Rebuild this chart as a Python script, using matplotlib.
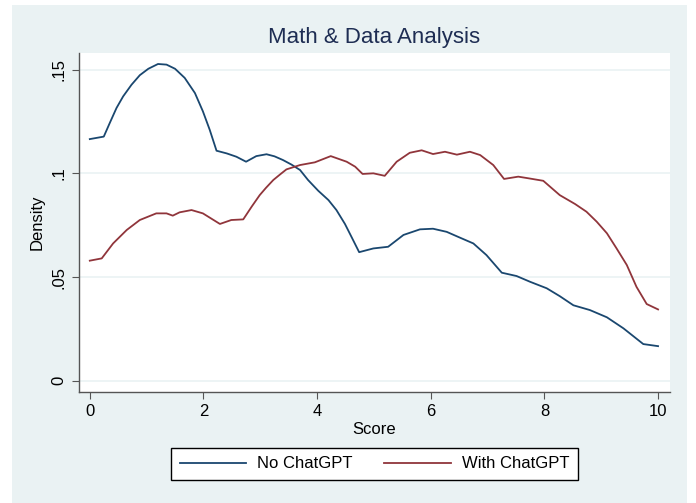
import matplotlib
matplotlib.use("Agg")
import matplotlib.pyplot as plt
from matplotlib.patches import Rectangle

# kernel density curves
score_no = [0, 0.246, 0.352, 0.47, 0.587, 0.734, 0.88, 1.03, 1.20, 1.35, 1.50, 1.67,
            1.85, 1.99, 2.11, 2.23, 2.41, 2.58, 2.75, 2.93, 3.11, 3.25, 3.40, 3.55,
            3.70, 3.84, 4.02, 4.20, 4.34, 4.49, 4.61, 4.74, 4.99, 5.25, 5.52, 5.81,
            6.04, 6.28, 6.48, 6.75, 6.98, 7.25, 7.51, 7.75, 8.04, 8.27, 8.51, 8.80,
            9.10, 9.39, 9.74, 10]
density_no = [.1165, .1177, .1243, .1315, .1371, .1427, .1473, .1504, .1527, .1524,
              .1504, .1460, .1387, .1299, .1210, .1109, .1096, .1080, .1056, .1083,
              .1092, .1082, .1064, .1042, .1016, .0968, .0916, .0871, .0823, .0756,
              .0691, .0620, .0638, .0646, .0703, .0730, .0733, .0718, .0694, .0662,
              .0606, .0521, .0505, .0477, .0446, .0408, .0364, .0341, .0306, .0253,
              .0177, .0167]

score_with = [0, 0.21, 0.41, 0.65, 0.88, 1.17, 1.35, 1.46, 1.58, 1.79, 1.99, 2.29,
              2.49, 2.70, 2.85, 2.99, 3.10, 3.23, 3.35, 3.46, 3.70, 3.96, 4.24, 4.52,
              4.67, 4.80, 4.99, 5.19, 5.40, 5.63, 5.84, 6.04, 6.25, 6.46, 6.69, 6.87,
              7.10, 7.29, 7.54, 7.72, 7.98, 8.27, 8.54, 8.74, 8.92, 9.10, 9.27, 9.45,
              9.62, 9.80, 10]
density_with = [.0579, .0590, .0662, .0727, .0775, .0807, .0807, .0796, .0812, .0823,
                .0807, .0756, .0775, .0778, .0840, .0895, .0930, .0968, .0995, .1019,
                .1040, .1053, .1083, .1056, .1032, .0997, .1000, .0988, .1056, .1099,
                .1111, .1093, .1104, .1090, .1104, .1088, .1040, .0973, .0984, .0976,
                .0964, .0895, .0852, .0815, .0767, .0711, .0638, .0558, .0453, .0370,
                .0344]

labels = ["No ChatGPT", "With ChatGPT"]
xticks = [0, 2, 4, 6, 8, 10]
yticks = [0, 0.05, 0.1, 0.15]
ytick_labels = ["0", ".05", ".1", ".15"]

plt.rcParams["font.family"] = ["Liberation Sans", "DejaVu Sans"]
bg = "#EAF2F3"
navy = "#1a476f"
maroon = "#90353b"

fig = plt.figure(figsize=(6.96, 5.03), dpi=100)
fig.patches.append(Rectangle((12 / 696, 0), 675 / 696, 498 / 503,
                             transform=fig.transFigure, facecolor=bg,
                             edgecolor="none", zorder=-10))

ax = fig.add_axes([79 / 696, 111 / 503, 591 / 696, 339 / 503])
ax.set_zorder(1)
ax.set_facecolor("white")
ax.plot(score_no, density_no, color=navy, lw=1.3, label=labels[0])
ax.plot(score_with, density_with, color=maroon, lw=1.3, label=labels[1])

ax.set_xlim(-0.19, 10.21)
ax.set_ylim(-0.0054, 0.158)
ax.set_xticks(xticks)
ax.set_yticks(yticks)
ax.set_yticklabels(ytick_labels, rotation=90, va="center")
ax.tick_params(labelsize=12, length=5, color="#555555", labelcolor="black")
ax.tick_params(axis="y", pad=4)
ax.grid(axis="y", color=bg, lw=1.2)
ax.set_axisbelow(True)
for side in ["top", "right"]:
    ax.spines[side].set_visible(False)
for side in ["left", "bottom"]:
    ax.spines[side].set_color("#555555")
    ax.spines[side].set_linewidth(1.0)

ax.set_xlabel("Score", fontsize=12, labelpad=2)
ax.set_ylabel("Density", fontsize=12, labelpad=5)
fig.text(374.5 / 696, (503 - 37) / 503, "Math & Data Analysis",
         ha="center", va="center", fontsize=16, color="#1e2d53")

leg = fig.legend(loc="center", bbox_to_anchor=(374.5 / 696, 39 / 503), ncol=2,
                 fontsize=12, frameon=True, fancybox=False, handlelength=4.0,
                 columnspacing=1.9, borderpad=0.5, handletextpad=0.65,
                 borderaxespad=0)
leg.get_frame().set_edgecolor("black")
leg.get_frame().set_linewidth(1.0)
leg.get_frame().set_alpha(1)

fig.savefig("out.png", dpi=100, facecolor="white")
